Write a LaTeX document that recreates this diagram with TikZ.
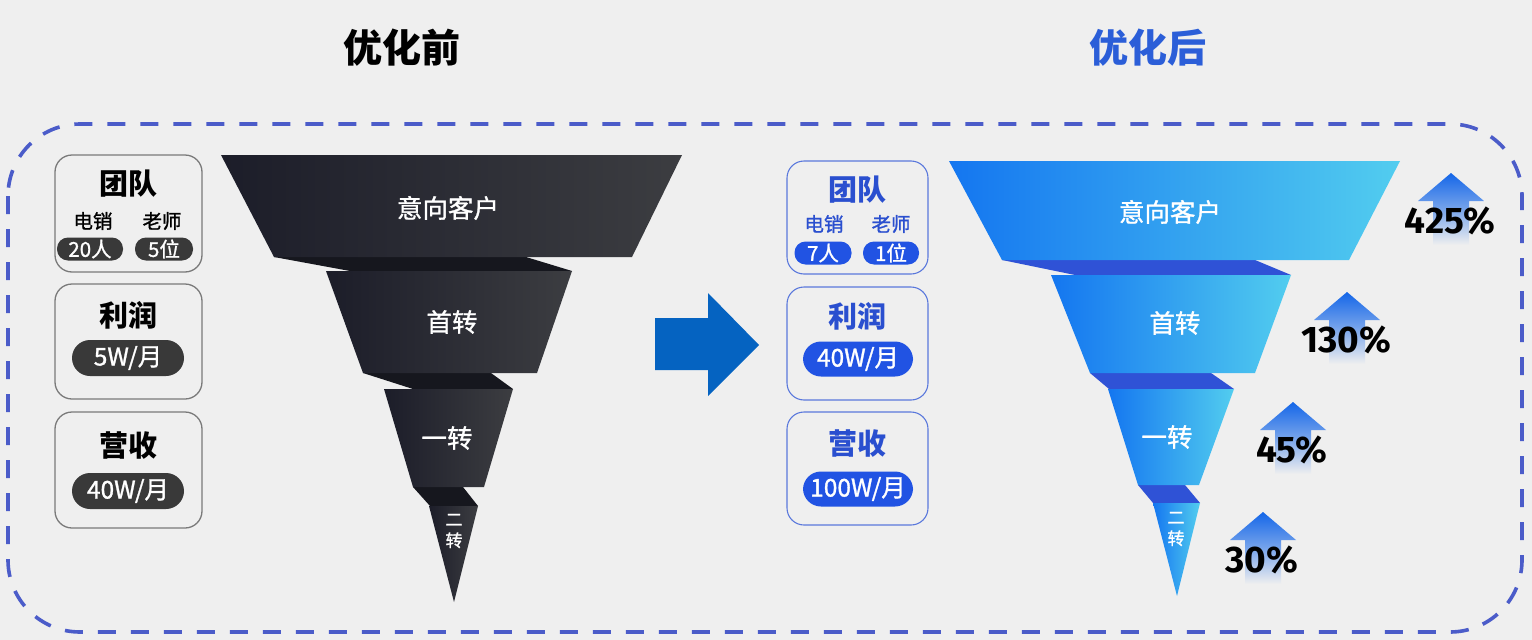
\documentclass[tikz,border=0pt]{standalone}
\usepackage{fontspec}
\setmainfont{Noto Sans CJK SC}
\newfontfamily\medfont{Noto Sans CJK SC}[FakeBold=1.2]
\newfontfamily\pctfont{Fira Sans}
\definecolor{bg}{HTML}{EFEFEF}
\definecolor{dashc}{HTML}{4B5CC9}
\definecolor{darkL}{HTML}{1C1D29}
\definecolor{darkR}{HTML}{3C3D41}
\definecolor{darkBand}{HTML}{16171E}
\definecolor{blueL}{HTML}{1476F0}
\definecolor{blueR}{HTML}{52CDEF}
\definecolor{blueBand}{HTML}{2F52D6}
\definecolor{arrowBlue}{HTML}{0563C1}
\definecolor{titleBlue}{HTML}{2B5ED8}
\definecolor{boxBlue}{HTML}{5A78DC}
\definecolor{pillBlue}{HTML}{2153E3}
\definecolor{textBlue}{HTML}{2A4FCF}
\definecolor{pillDark}{HTML}{393939}
\definecolor{boxGray}{HTML}{7A7A7A}
\definecolor{upTop}{HTML}{1466E8}
\tikzset{
  lbox/.style={draw=boxGray, line width=1.3pt, rounded corners=17pt},
  rbox/.style={draw=boxBlue, line width=1.1pt, rounded corners=17pt},
  headtxt/.style={inner sep=0pt, font=\fontsize{29}{29}\selectfont\bfseries},
  subtxt/.style={inner sep=0pt, font=\medfont\fontsize{19.5}{19.5}\selectfont},
  pill/.style={inner sep=0pt, text=white, rounded corners=#1},
  smallpill/.style={pill=11pt, minimum height=23pt, font=\medfont\fontsize{20.5}{20.5}\selectfont},
  bigpill/.style={pill=18pt, minimum width=112pt, minimum height=36pt, font=\medfont\fontsize{24.5}{24.5}\selectfont},
  flabel/.style={inner sep=0pt, text=white, font=\medfont\fontsize{25.5}{25.5}\selectfont},
  vlabel/.style={inner sep=0pt, text=white, align=center, font=\medfont\fontsize{17}{21}\selectfont},
  pcttxt/.style={inner sep=0pt, font=\pctfont\fontsize{37}{37}\selectfont\bfseries},
  titletxt/.style={inner sep=0pt, font=\fontsize{39}{39}\selectfont\bfseries}
}
\begin{document}
\begin{tikzpicture}[x=1pt,y=-1pt]
\fill[bg] (0,0) rectangle (1532,640);
\useasboundingbox (0,0) rectangle (1532,640);

% titles
\node[titletxt] (t1) at (402,48) {优化前};
\node[titletxt, text=titleBlue] (t2) at (1148,48) {优化后};

% dashed frame
\draw[dashc, line width=3.6pt, dash pattern=on 18pt off 15pt, rounded corners=72pt] (8,124) rectangle (1522,632);

% ---------------- left info boxes
\draw[lbox] (55,155) rectangle (202,272);
\node[headtxt] (lt1) at (128,184) {团队};
\node[subtxt] (ls1) at (93,221) {电销};
\node[subtxt] (ls2) at (162,221) {老师};
\node[smallpill, fill=pillDark, minimum width=66pt] (lp1) at (90,249) {20人};
\node[smallpill, fill=pillDark, minimum width=58pt] (lp2) at (164,249) {5位};

\draw[lbox] (55,284) rectangle (202,399);
\node[headtxt] (lt2) at (128,315) {利润};
\node[bigpill, fill=pillDark] (lp3) at (128,358) {5W/月};

\draw[lbox] (55,412) rectangle (202,528);
\node[headtxt] (lt3) at (128,446) {营收};
\node[bigpill, fill=pillDark] (lp4) at (128,491) {40W/月};

% ---------------- dark funnel
\fill[darkBand] (274,257) -- (526,257) -- (572,271) -- (350,271) -- cycle;
\fill[darkBand] (363,373) -- (491,373) -- (513,389) -- (413,389) -- cycle;
\fill[darkBand] (413,487) -- (463,487) -- (478,506) -- (430,506) -- cycle;
\shade[left color=darkL, right color=darkR] (221,155) -- (682,155) -- (632,257) -- (274,257) -- cycle;
\shade[left color=darkL, right color=darkR] (326,271) -- (572,271) -- (537,373) -- (363,373) -- cycle;
\shade[left color=darkL, right color=darkR] (384,389) -- (513,389) -- (484,487) -- (413,487) -- cycle;
\shade[left color=darkL, right color=darkR] (429,506) -- (478,506) -- (454,602) -- cycle;
\node[flabel] (d1) at (448,208) {意向客户};
\node[flabel] (d2) at (452,322) {首转};
\node[flabel] (d3) at (447,438) {一转};
\node[vlabel] (d4) at (454,531) {二\\转};

% ---------------- middle arrow
\fill[arrowBlue] (655,318) -- (708,318) -- (708,293) -- (759,345) -- (708,396) -- (708,370) -- (655,370) -- cycle;

% ---------------- right info boxes
\draw[rbox] (787,161) rectangle (928,274);
\node[headtxt, text=textBlue] (rt1) at (857,190) {团队};
\node[subtxt, text=textBlue] (rs1) at (824,224) {电销};
\node[subtxt, text=textBlue] (rs2) at (891,224) {老师};
\node[smallpill, fill=pillBlue, minimum width=57pt] (rp1) at (823,253) {7人};
\node[smallpill, fill=pillBlue, minimum width=56pt] (rp2) at (891,253) {1位};

\draw[rbox] (787,287) rectangle (928,400);
\node[headtxt, text=textBlue] (rt2) at (857,316) {利润};
\node[bigpill, fill=pillBlue, minimum width=110pt, minimum height=35pt] (rp3) at (858,359) {40W/月};

\draw[rbox] (787,412) rectangle (928,525);
\node[headtxt, text=textBlue] (rt3) at (857,444) {营收};
\node[bigpill, fill=pillBlue, minimum width=110pt, minimum height=35pt] (rp4) at (858,489) {100W/月};

% ---------------- blue funnel
\fill[blueBand] (1002,260) -- (1255,260) -- (1291,275) -- (1075,275) -- cycle;
\fill[blueBand] (1090,373) -- (1211,373) -- (1234,389) -- (1109,389) -- cycle;
\fill[blueBand] (1138,485) -- (1185,485) -- (1200,503) -- (1153,503) -- cycle;
\shade[left color=blueL, right color=blueR] (949,161) -- (1400,161) -- (1349,260) -- (1002,260) -- cycle;
\shade[left color=blueL, right color=blueR] (1051,275) -- (1291,275) -- (1255,373) -- (1090,373) -- cycle;
\shade[left color=blueL, right color=blueR] (1108,389) -- (1234,389) -- (1199,485) -- (1138,485) -- cycle;
\shade[left color=blueL, right color=blueR] (1153,503) -- (1200,503) -- (1177,596) -- cycle;
\node[flabel] (b1) at (1170,212) {意向客户};
\node[flabel] (b2) at (1175,323) {首转};
\node[flabel] (b3) at (1167,437) {一转};
\node[vlabel] (b4) at (1176,529) {二\\转};

% ---------------- growth arrows
\foreach \ax/\ay/\txt/\nm in {1451/173/425\%/a, 1347/292/130\%/b, 1293/402/45\%/c, 1263/512/30\%/d}{
  \begin{scope}[shift={(\ax,\ay)}]
    \shade[top color=upTop, bottom color=bg, middle color=upTop!55!bg]
      (0,0) -- (33,28) -- (18,28) -- (18,72) -- (-18,72) -- (-18,28) -- (-33,28) -- cycle;
    \node[pcttxt] (pct\nm) at (-1,48) {\txt};
  \end{scope}
}
\end{tikzpicture}
\end{document}
